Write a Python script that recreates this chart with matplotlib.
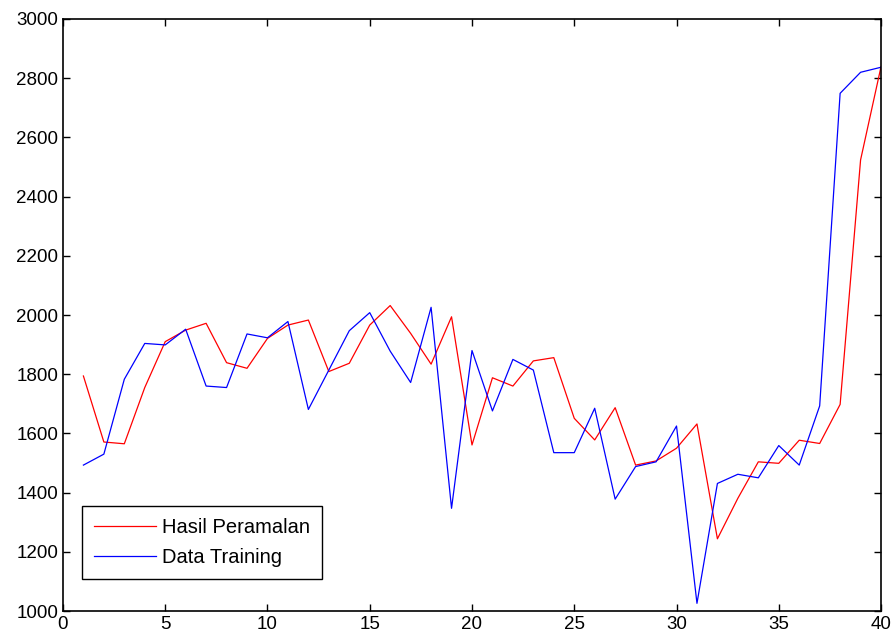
import matplotlib
matplotlib.use("Agg")
import matplotlib.pyplot as plt
import numpy as np

plt.rcParams['font.family'] = ['Liberation Sans', 'DejaVu Sans']

# time index
t = np.arange(1, 41)

# forecast (red)
hasil_peramalan = [1794, 1571, 1565, 1755, 1910, 1949, 1972, 1839, 1820, 1921,
                   1966, 1983, 1809, 1837, 1966, 2032, 1938, 1834, 1994, 1561,
                   1788, 1760, 1845, 1856, 1651, 1578, 1687, 1493, 1507, 1550,
                   1632, 1244, 1381, 1504, 1499, 1577, 1566, 1698, 2524, 2839]

# training data (blue)
data_training = [1493, 1530, 1783, 1904, 1899, 1952, 1760, 1755, 1936, 1923,
                 1978, 1681, 1814, 1947, 2008, 1878, 1772, 2026, 1347, 1880,
                 1676, 1850, 1814, 1535, 1535, 1685, 1378, 1488, 1504, 1625,
                 1026, 1431, 1462, 1450, 1559, 1493, 1693, 2749, 2820, 2837]

xticks = [0, 5, 10, 15, 20, 25, 30, 35, 40]
yticks = [1000, 1200, 1400, 1600, 1800, 2000, 2200, 2400, 2600, 2800, 3000]

fig = plt.figure(figsize=(8.93, 6.44), dpi=100)
ax = fig.add_axes([0.0705, 0.0512, 0.9161, 0.9193])

ax.plot(t, hasil_peramalan, color='red', linewidth=0.9, label='Hasil Peramalan')
ax.plot(t, data_training, color='blue', linewidth=0.9, label='Data Training')

ax.set_xlim(0, 40)
ax.set_ylim(1000, 3000)
ax.set_xticks(xticks)
ax.set_yticks(yticks)
ax.tick_params(direction='in', top=True, right=True, labelsize=13.5, length=5, width=1)
for s in ax.spines.values():
    s.set_linewidth(1.2)

leg = ax.legend(loc='lower left', bbox_to_anchor=(0.023, 0.054), borderaxespad=0,
                fancybox=False, framealpha=1, edgecolor='black', fontsize=14.5,
                handlelength=3.1, handletextpad=0.3, borderpad=0.6, labelspacing=0.55)
leg.get_frame().set_linewidth(1.0)

fig.savefig('out.png', dpi=100)
